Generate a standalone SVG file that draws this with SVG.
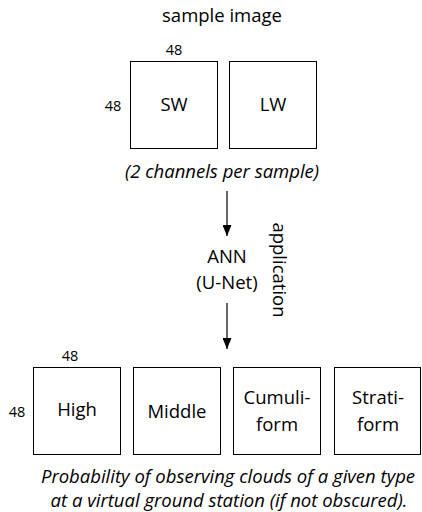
<svg xmlns="http://www.w3.org/2000/svg" width="422" height="512" viewBox="0 0 422 512">
<defs>
<style>
text{font-family:"Open Sans","Noto Sans",sans-serif;fill:#000;text-anchor:middle}
.l{font-size:18.5px}
.d{font-size:14.5px}
.i{font-size:18.5px;font-style:italic}
.b{fill:#fff;stroke:#000;stroke-width:1}
.c{stroke:#000;stroke-width:1.2;fill:none}
</style>
<marker id="ah" viewBox="0 0 11 9" refX="11" refY="4.5" markerWidth="11" markerHeight="9" markerUnits="userSpaceOnUse" orient="auto">
<path d="M0,0 L11,4.5 L0,9 z" fill="#000"/>
</marker>
</defs>
<rect width="422" height="512" fill="#fff"/>
<text class="l" x="222" y="22">sample image</text>
<text class="d" x="174" y="55">48</text>
<text class="d" x="113" y="111">48</text>
<g id="sw"><rect class="b" x="130.5" y="61.5" width="87" height="87"/><text class="l" x="174" y="111">SW</text></g>
<g id="lw"><rect class="b" x="229.5" y="61.5" width="87" height="87"/><text class="l" x="273" y="111">LW</text></g>
<text class="i" x="222" y="178">(2 channels per sample)</text>
<g id="ann"><text class="l" x="227" y="263">ANN</text><text class="l" x="227" y="289">(U-Net)</text></g>
<text class="l" transform="translate(273,270) rotate(90)">application</text>
<g id="connectors">
<line class="c" x1="227" y1="191" x2="227" y2="236" marker-end="url(#ah)"/>
<line class="c" x1="227" y1="303" x2="227" y2="349" marker-end="url(#ah)"/>
</g>
<text class="d" x="70" y="361">48</text>
<text class="d" x="17" y="417">48</text>
<g id="high"><rect class="b" x="33.5" y="367.5" width="87" height="87"/><text class="l" x="77" y="416">High</text></g>
<g id="middle"><rect class="b" x="133.5" y="367.5" width="87" height="87"/><text class="l" x="177" y="418">Middle</text></g>
<g id="cumuli"><rect class="b" x="233.5" y="367.5" width="87" height="87"/><text class="l" x="277" y="404">Cumuli-</text><text class="l" x="277" y="431">form</text></g>
<g id="strati"><rect class="b" x="334.5" y="367.5" width="86" height="87"/><text class="l" x="378" y="404">Strati-</text><text class="l" x="378" y="431">form</text></g>
<text class="i" x="228" y="483">Probability of observing clouds of a given type</text>
<text class="i" x="229" y="507">at a virtual ground station (if not obscured).</text>
</svg>
